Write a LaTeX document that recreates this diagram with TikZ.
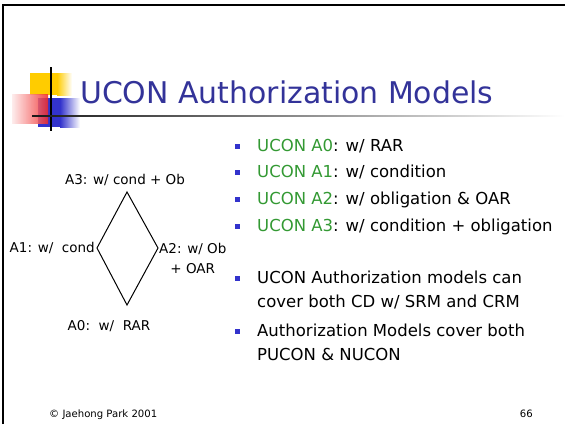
\documentclass[tikz,border=0pt]{standalone}
\usepackage{fontspec}
\setmainfont{DejaVu Sans}
\usetikzlibrary{positioning}
\definecolor{titleblue}{RGB}{51,51,153}
\definecolor{ucongreen}{RGB}{51,153,51}
\definecolor{bulletblue}{RGB}{51,51,204}
\definecolor{logoyellow}{RGB}{255,204,0}
\definecolor{logored}{RGB}{240,40,40}
\tikzstyle{bullet}=[fill=bulletblue,inner sep=0pt,minimum size=5pt]
\tikzstyle{item}=[anchor=base west,inner sep=0pt,align=left,font=\fontsize{16.5}{24.5}\selectfont]
\newcommand{\ucon}[1]{\textcolor{ucongreen}{UCON #1}}

\begin{document}
\begin{tikzpicture}[x=1pt,y=-1pt]

	\tikzstyle{lattice}=[font=\fontsize{13.5}{20}\selectfont,inner sep=0pt];
	\tikzstyle{footer}=[font=\fontsize{10.1}{11}\selectfont,inner sep=0pt,anchor=base west];

	\useasboundingbox (0,0) rectangle (565,424);
	% slide frame
	\draw[line width=2pt] (3,424) -- (3,5) -- (565,5);

	% title decoration
	\fill[logoyellow] (30,73) rectangle (57,95);
	\shade[left color=logoyellow,right color=white] (57,73) rectangle (72,95);
	\fill[bulletblue] (38,98) rectangle (60,127);
	\shade[left color=bulletblue,right color=white] (60,98) rectangle (80,127);
	\shade[left color=logored!10,right color=logored,opacity=0.85] (12,94) rectangle (48,123);
	\draw[line width=2pt] (51,67) -- (51,131);
	\shade[left color=black!90,right color=white] (32,115.2) rectangle (565,116.8);

	\node (title) [anchor=base west,inner sep=0pt,text=titleblue,font=\fontsize{29.9}{30}\selectfont] at (80,103) {UCON Authorization Models};

	% lattice of models
	\coordinate (a3) at (127,192);
	\coordinate (a1) at (97,248);
	\coordinate (a2) at (158,248);
	\coordinate (a0) at (127,305);
	\draw[line width=1pt,line join=miter] (a3) -- (a2) -- (a0) -- (a1) -- cycle;

	\node (l3) [lattice,above=6pt of a3,xshift=-2pt] {A3: w/ cond + Ob};
	\node (l1) [lattice,left=2pt of a1] {A1: w/\ \ cond};
	\node (l2) [lattice,anchor=west,align=center] at ([xshift=1pt,yshift=-10pt]a2) {A2: w/ Ob\\+ OAR};
	\node (l0) [lattice,below=15pt of a0,xshift=-18pt] {A0:\ \ w/\ \ RAR};

	% bullet items (two-line items sit on their last line)
	\node (t0) [item] at (257,151) {\ucon{A0}: w/ RAR};
	\node (t1) [item] at (257,177.5) {\ucon{A1}: w/ condition};
	\node (t2) [item] at (257,204) {\ucon{A2}: w/ obligation \& OAR};
	\node (t3) [item] at (257,231) {\ucon{A3}: w/ condition + obligation};
	\node (t4) [item] at (257,307.5) {UCON Authorization models can\\cover both CD w/ SRM and CRM};
	\node (t5) [item] at (257,360.5) {Authorization Models cover both\\PUCON \& NUCON};
	\foreach \t/\up in {t0/5,t1/5,t2/5,t3/5,t4/29.5,t5/29.5}
		\node[bullet] at ([xshift=-19.5pt,yshift=\up pt]\t.base west) {};

	\node (foot) [footer] at (49,417) {© Jaehong Park 2001};
	\node (page) [footer,anchor=base east] at (533,417) {66};
\end{tikzpicture}
\end{document}
